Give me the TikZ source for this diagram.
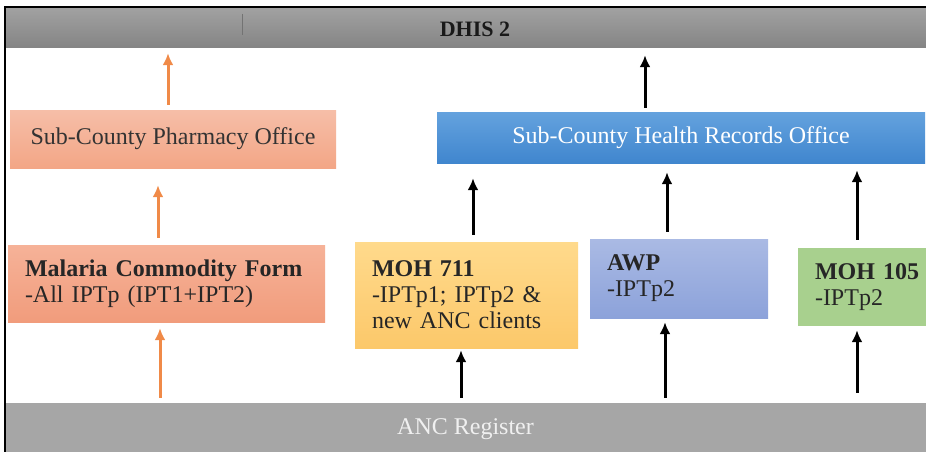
\documentclass[tikz,border=0pt]{standalone}
\usepackage{fontspec}
\setmainfont{Liberation Serif}
\usetikzlibrary{arrows.meta}

\definecolor{barGray}{RGB}{132,132,132}
\definecolor{barTop}{RGB}{162,162,162}
\definecolor{ancGray}{RGB}{166,166,166}
\definecolor{salmonTop}{RGB}{246,190,168}
\definecolor{salmonBot}{RGB}{243,166,134}
\definecolor{formTop}{RGB}{246,178,152}
\definecolor{formBot}{RGB}{241,156,124}
\definecolor{blueTop}{RGB}{100,162,222}
\definecolor{blueBot}{RGB}{64,134,206}
\definecolor{yellowTop}{RGB}{255,218,140}
\definecolor{yellowBot}{RGB}{252,200,106}
\definecolor{awpTop}{RGB}{170,186,228}
\definecolor{awpBot}{RGB}{140,162,218}
\definecolor{greenBox}{RGB}{168,208,142}
\definecolor{arrowOrange}{RGB}{240,138,72}

\begin{document}
\begin{tikzpicture}[x=1pt,y=-1pt,>={Latex[length=12pt,width=11pt]},shorten >=1pt,
                    bar/.style={rectangle,inner sep=0pt,minimum width=921pt},
                    office/.style={rectangle,inner sep=0pt,font=\fontsize{24}{26}\selectfont},
                    form/.style={rectangle,inner xsep=17pt,inner ysep=0pt,align=left,
                                 font=\fontsize{24}{26}\selectfont,text=black!85},
                    link/.style={draw,->,line width=3pt}]
  \useasboundingbox (0,0) rectangle (926,452);
  \clip (0,0) rectangle (926,452);
  \fill[white] (0,0) rectangle (926,452);

  % bars at top and bottom
  \node[bar, minimum height=41pt, top color=barTop, bottom color=barGray] (dhis) at (465.5,27.5) {};
  \node[font=\fontsize{22}{24}\selectfont\bfseries, text=black!90] (dhistext) at (475,29) {DHIS 2};
  \draw[black!55, line width=0.6pt] (242,14) -- (242,36);
  \node[bar, minimum height=52pt, fill=ancGray,
        font=\fontsize{24}{26}\selectfont, text=white!94!black] (anc) at (465.5,429) {ANC Register};

  % offices
  \node[office, minimum width=326pt, minimum height=58pt, top color=salmonTop,
        bottom color=salmonBot, text=black!80] (pharm) at (173,139) {Sub-County Pharmacy Office};
  \node[office, minimum width=488pt, minimum height=51pt, top color=blueTop,
        bottom color=blueBot, text=white] (records) at (681,137.5) {Sub-County Health Records Office};

  % forms
  \node[form, text width=283pt, minimum height=77pt, top color=formTop,
        bottom color=formBot] (malaria) at (166.5,283.5)
        {\textbf{Malaria Commodity Form}\\-All IPTp (IPT1+IPT2)};
  \node[form, text width=189pt, minimum height=106pt, top color=yellowTop,
        bottom color=yellowBot] (moh711) at (466.5,295)
        {\textbf{MOH 711}\\-IPTp1; IPTp2 \&\\new ANC clients};
  \node[form, text width=144pt, minimum height=79pt, top color=awpTop,
        bottom color=awpBot] (awp) at (679,278.5)
        {\textbf{AWP}\\-IPTp2};
  \node[form, text width=106pt, minimum height=78pt, fill=greenBox] (moh105) at (868,287)
        {\textbf{MOH 105}\\-IPTp2};

  % frame
  \draw[line width=1.6pt] (5,470) -- (5,7) -- (940,7);

  % reporting arrows
  \path
    (pharm.north -| 168,0) edge[link, arrowOrange, shorten <=5pt, shorten >=5pt] (dhis.south -| 168,0)
    (malaria.north -| 158,0) edge[link, arrowOrange, shorten <=7pt, shorten >=17pt] (pharm.south -| 158,0)
    (anc.north -| 160,0) edge[link, arrowOrange, shorten <=5pt, shorten >=6pt] (malaria.south -| 160,0)
    (records.north -| 645,0) edge[link, shorten <=4pt, shorten >=7pt] (dhis.south -| 645,0)
    (moh711.north -| 473,0) edge[link, shorten <=7pt, shorten >=15pt] (records.south -| 473,0)
    (awp.north -| 667,0) edge[link, shorten <=7pt, shorten >=9pt] (records.south -| 667,0)
    (moh105.north -| 857,0) edge[link, shorten <=8pt, shorten >=7pt] (records.south -| 857,0)
    (anc.north -| 461,0) edge[link, shorten <=5pt, shorten >=2pt] (moh711.south -| 461,0)
    (anc.north -| 665,0) edge[link, shorten <=5pt, shorten >=4pt] (awp.south -| 665,0)
    (anc.north -| 857,0) edge[link, shorten <=10pt, shorten >=4pt] (moh105.south -| 857,0);
\end{tikzpicture}
\end{document}
